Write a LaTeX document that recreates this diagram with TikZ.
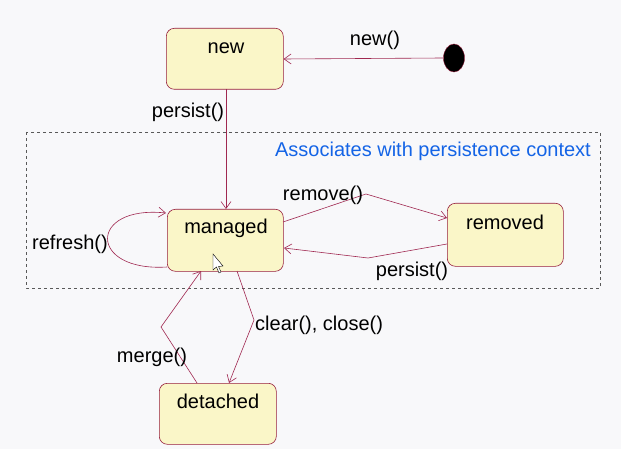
\documentclass[tikz,border=0pt]{standalone}
\usepackage{fontspec}
\setmainfont{Liberation Sans}
\usetikzlibrary{arrows.meta,shapes.geometric}
\definecolor{bg}{RGB}{248,248,250}
\definecolor{boxfill}{RGB}{250,246,200}
\definecolor{boxline}{RGB}{150,30,60}
\definecolor{conn}{RGB}{160,40,80}
\definecolor{blue}{RGB}{20,100,230}
\begin{document}
\begin{tikzpicture}[x=1pt,y=-1pt,
  state/.style={draw=boxline,fill=boxfill,rounded corners=8pt,line width=0.6pt,anchor=north west},
  conn/.style={draw=conn,line width=0.6pt,-{Straight Barb[length=7pt,width=10pt]}},
  lbl/.style={font=\fontsize{20}{22}\selectfont,inner sep=0pt}]
\fill[bg] (0,0) rectangle (621,449);
\useasboundingbox (0,0) rectangle (621,449);
% dashed region
\draw[dashed,gray!70!black,line width=0.6pt] (26,132) rectangle (600,288);
\node[lbl,text=blue,anchor=east] (ctx) at (591,151) {Associates with persistence context};
% states
\node[state,minimum width=117pt,minimum height=61pt] (new) at (166,28) {};
\node[lbl] (newt) at (226,48) {new};
\node[state,minimum width=116pt,minimum height=62pt] (managed) at (167,209) {};
\node[lbl] (managedt) at (226,228) {managed};
\node[state,minimum width=116pt,minimum height=63pt] (removed) at (447,203) {};
\node[lbl] (removedt) at (505,222) {removed};
\node[state,minimum width=117pt,minimum height=61pt] (detached) at (159,383) {};
\node[lbl] (detachedt) at (218,401) {detached};
% initial
\node[draw=boxline,fill=black,ellipse,minimum width=21pt,minimum height=28pt,inner sep=0pt] (init) at (454,58) {};
% connectors
\draw[conn] (init.west) -- (new.east |- 0,59);
\node[lbl] at (375,40) {new()};
\coordinate (n1) at (226,89);
\draw[conn] (n1) -- (n1 |- managed.north);
\node[lbl] at (188,112) {persist()};
\coordinate (b1) at (366,194);
\draw[conn] (283,222) -- (b1) -- (447,218);
\node[lbl] at (323,195) {remove()};
\coordinate (b2) at (368,258);
\draw[conn] (447,244) -- (b2) -- (284,248);
\node[lbl] at (412,271) {persist()};
\draw[conn] (167,267) .. controls (88,272) and (88,205) .. (166,213);
\node[lbl] at (70,244) {refresh()};
\coordinate (b3) at (254,320);
\draw[conn] (237,271) -- (b3) -- (229,383);
\node[lbl,anchor=west] at (255,325) {clear(), close()};
\coordinate (b4) at (161,327);
\draw[conn] (197,383) -- (b4) -- (201,271);
\node[lbl] at (152,357) {merge()};
% cursor
\draw[fill=white,draw=black,line width=0.4pt] (213,254) -- (213,270) -- (216.5,267) -- (219,273) -- (221,272) -- (218.5,266.5) -- (223,266) -- cycle;
\end{tikzpicture}
\end{document}
